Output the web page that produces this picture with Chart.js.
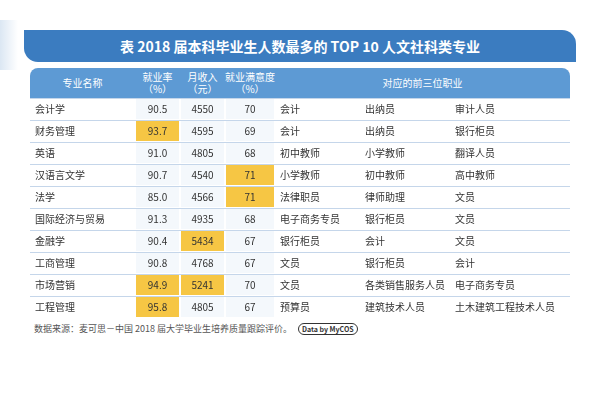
<!DOCTYPE html>
<html><head><meta charset="utf-8">
<script src="https://cdn.jsdelivr.net/npm/chart.js@4/dist/chart.umd.min.js"></script>
<style>
body{margin:0;width:600px;height:400px;background:#fff;font-family:"Noto Sans CJK SC",sans-serif;position:relative;overflow:hidden}
#title{position:absolute;left:24px;top:30px;width:552px;height:32px;background:#3b7cc0;border-radius:0 14px 0 14px;color:#fff;font-size:14px;font-weight:bold;line-height:32px;text-align:center}
#hdr{position:absolute;left:30px;top:68px;width:540px;height:30px;background:#5d9ad4;border-radius:8px 8px 0 0;color:#fff;font-size:10px}
#hdr div{position:absolute;top:0;height:30px;display:flex;align-items:center;justify-content:center;text-align:center;line-height:12px}
#wrap{position:absolute;left:30px;top:98px;width:540px;height:220px}
#foot{position:absolute;left:34px;top:322px;font-size:9px;color:#555}
#foot span{border:1px solid #333;border-radius:6px;padding:0 3px;font-size:7px;font-weight:bold;color:#333;margin-left:6px}
#deco{position:absolute;left:0;top:20px;width:18px;height:50px;background:linear-gradient(90deg,#dbe7f3,#fff)}
</style></head><body>
<div id="deco"></div>
<div id="title">表 2018 届本科毕业生人数最多的 TOP 10 人文社科类专业</div>
<div id="hdr"></div>
<div id="wrap"><canvas id="c"></canvas></div>
<div id="foot">数据来源：麦可思－中国 2018 届大学毕业生培养质量跟踪评价。<span>Data by MyCOS</span></div>
<script>
const majors=['会计学','财务管理','英语','汉语言文学','法学','国际经济与贸易','金融学','工商管理','市场营销','工程管理'];
const employRate=[90.5,93.7,91.0,90.7,85.0,91.3,90.4,90.8,94.9,95.8];
const income=[4550,4595,4805,4540,4566,4935,5434,4768,5241,4805];
const satisfaction=[70,69,68,71,71,68,67,67,70,67];
const job1=['会计','会计','初中教师','小学教师','法律职员','电子商务专员','银行柜员','文员','文员','预算员'];
const job2=['出纳员','出纳员','小学教师','初中教师','律师助理','银行柜员','会计','银行柜员','各类销售服务人员','建筑技术人员'];
const job3=['审计人员','银行柜员','翻译人员','高中教师','文员','文员','文员','会计','电子商务专员','土木建筑工程技术人员'];
const headers=['专业名称','就业率<br>（%）','月收入<br>（元）','就业满意度<br>（%）','对应的前三位职业'];
const highlight=[[1,1],[3,3],[4,3],[6,2],[8,1],[8,2],[9,1]];

const colEdges=[0,105,150,195,245,330,420,540];
const hdrEdges=[0,105,150,195,245,540];
const hdr=document.getElementById('hdr');
headers.forEach((h,i)=>{const d=document.createElement('div');d.style.left=hdrEdges[i]+'px';d.style.width=(hdrEdges[i+1]-hdrEdges[i])+'px';d.innerHTML=h;hdr.appendChild(d);});
const cols=[majors,employRate.map(v=>v.toFixed(1)),income,satisfaction,job1,job2,job3];
const align=['left','center','center','center','left','left','left'];
const isHi=(r,c)=>highlight.some(h=>h[0]===r&&h[1]===c);
const datasets=cols.map((col,c)=>({data:majors.map(()=>[colEdges[c]+1,colEdges[c+1]-1]),
 backgroundColor:majors.map((_,r)=>isHi(r,c)?'#f6c644':(c>=1&&c<=3?'#f4f8fc':'#ffffff')),
 barPercentage:0.92,categoryPercentage:1,grouped:false}));
const textPlugin={id:'txt',afterDatasetsDraw(ch){
 const ctx=ch.ctx,x=ch.scales.x,y=ch.scales.y;
 ctx.save();ctx.strokeStyle='#c5d6ea';ctx.lineWidth=1;
 for(let r=0;r<=majors.length;r++){const py=Math.round(y.getPixelForValue(r-0.5))+0.5;ctx.beginPath();ctx.moveTo(x.left,py);ctx.lineTo(x.right,py);ctx.stroke();}
 ctx.font='10px "Noto Sans CJK SC"';ctx.fillStyle='#333';ctx.textBaseline='middle';
 cols.forEach((col,c)=>{col.forEach((v,r)=>{const py=y.getPixelForValue(r);
  if(align[c]==='left'){ctx.textAlign='left';ctx.fillText(String(v),x.getPixelForValue(colEdges[c])+5,py);}
  else{ctx.textAlign='center';ctx.fillText(String(v),x.getPixelForValue((colEdges[c]+colEdges[c+1])/2),py);}});});
 ctx.restore();}};
new Chart(document.getElementById('c'),{type:'bar',data:{labels:majors,datasets},
 options:{indexAxis:'y',responsive:true,maintainAspectRatio:false,animation:false,layout:{padding:0},
 plugins:{legend:{display:false},tooltip:{enabled:false}},
 scales:{x:{display:false,min:0,max:540},y:{display:false}}},plugins:[textPlugin]});
</script></body></html>
